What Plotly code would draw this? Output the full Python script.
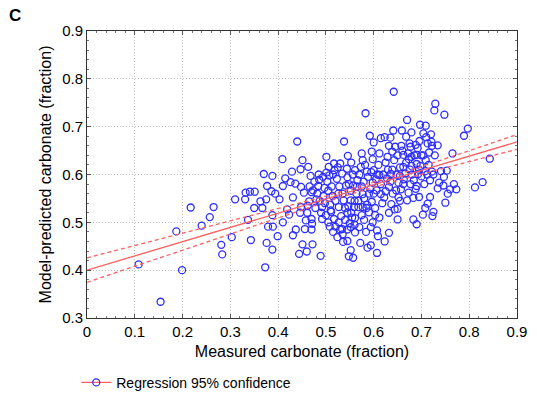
import numpy as np
import plotly.graph_objects as go

# ---- data ----
measured = [
    0.108, 0.154, 0.199, 0.187, 0.217, 0.240, 0.257, 0.265, 0.281, 0.283,
    0.303, 0.310, 0.331, 0.332, 0.341, 0.351, 0.337, 0.343, 0.350, 0.363,
    0.367, 0.370, 0.375, 0.377, 0.376, 0.373, 0.379, 0.389, 0.388, 0.388,
    0.388, 0.386, 0.394, 0.403, 0.399, 0.409, 0.410, 0.410, 0.415, 0.419,
    0.423, 0.426, 0.429, 0.431, 0.431, 0.437, 0.436, 0.440, 0.446, 0.444,
    0.448, 0.447, 0.448, 0.451, 0.451, 0.454, 0.460, 0.458, 0.456, 0.463,
    0.461, 0.465, 0.468, 0.470, 0.471, 0.470, 0.470, 0.472, 0.473, 0.480,
    0.484, 0.486, 0.489, 0.487, 0.492, 0.492, 0.494, 0.497, 0.501, 0.501,
    0.500, 0.505, 0.506, 0.507, 0.508, 0.509, 0.511, 0.514, 0.517, 0.517,
    0.518, 0.520, 0.524, 0.523, 0.526, 0.527, 0.527, 0.532, 0.530, 0.534,
    0.538, 0.537, 0.534, 0.536, 0.542, 0.546, 0.544, 0.545, 0.547, 0.545,
    0.550, 0.548, 0.552, 0.552, 0.552, 0.553, 0.552, 0.553, 0.557, 0.557,
    0.561, 0.559, 0.561, 0.561, 0.564, 0.566, 0.568, 0.572, 0.575, 0.573,
    0.577, 0.577, 0.577, 0.580, 0.579, 0.583, 0.584, 0.586, 0.586, 0.587,
    0.590, 0.592, 0.593, 0.594, 0.594, 0.596, 0.600, 0.598, 0.596, 0.598,
    0.600, 0.603, 0.607, 0.607, 0.609, 0.608, 0.606, 0.612, 0.612, 0.615,
    0.615, 0.622, 0.623, 0.625, 0.623, 0.628, 0.629, 0.632, 0.632, 0.632,
    0.632, 0.636, 0.635, 0.637, 0.639, 0.639, 0.641, 0.642, 0.644, 0.645,
    0.647, 0.652, 0.650, 0.652, 0.650, 0.655, 0.655, 0.659, 0.660, 0.662,
    0.657, 0.662, 0.662, 0.666, 0.670, 0.668, 0.670, 0.672, 0.674, 0.673,
    0.676, 0.677, 0.677, 0.679, 0.679, 0.679, 0.683, 0.683, 0.684, 0.688,
    0.690, 0.690, 0.690, 0.690, 0.693, 0.695, 0.696, 0.697, 0.698, 0.700,
    0.703, 0.704, 0.704, 0.708, 0.709, 0.708, 0.709, 0.710, 0.713, 0.713,
    0.715, 0.716, 0.718, 0.718, 0.720, 0.721, 0.722, 0.723, 0.725, 0.727,
    0.729, 0.734, 0.734, 0.737, 0.741, 0.747, 0.748, 0.746, 0.750, 0.753,
    0.755, 0.760, 0.765, 0.768, 0.773, 0.789, 0.797, 0.812, 0.828, 0.843,
    # denser core
    0.503, 0.512, 0.520, 0.528, 0.535, 0.540, 0.545, 0.548, 0.556, 0.560,
    0.515, 0.525, 0.510, 0.540, 0.530, 0.555, 0.565, 0.570, 0.568, 0.575,
    0.580, 0.582, 0.588, 0.590, 0.585, 0.595, 0.600, 0.603, 0.605, 0.610,
    0.615, 0.618, 0.620, 0.625, 0.630, 0.635, 0.640, 0.643, 0.648, 0.650,
    0.655, 0.658, 0.663, 0.668, 0.675, 0.680, 0.685, 0.688, 0.692, 0.695,
    0.700, 0.706, 0.712, 0.722, 0.725, 0.728, 0.478, 0.482, 0.490, 0.495,
    0.498, 0.485, 0.476, 0.462, 0.466, 0.505, 0.515, 0.535, 0.545, 0.560,
    0.570, 0.575, 0.598, 0.612,
]
predicted = [
    0.412, 0.334, 0.400, 0.481, 0.531, 0.493, 0.511, 0.532, 0.453, 0.433,
    0.469, 0.548, 0.548, 0.562, 0.564, 0.564, 0.505, 0.463, 0.530, 0.544,
    0.530, 0.601, 0.548, 0.576, 0.457, 0.406, 0.491, 0.491, 0.443, 0.515,
    0.597, 0.565, 0.560, 0.548, 0.471, 0.632, 0.576, 0.500, 0.592, 0.527,
    0.516, 0.584, 0.606, 0.552, 0.473, 0.485, 0.581, 0.669, 0.520, 0.434,
    0.532, 0.611, 0.574, 0.630, 0.454, 0.562, 0.439, 0.504, 0.486, 0.616,
    0.520, 0.544, 0.597, 0.563, 0.497, 0.485, 0.507, 0.454, 0.567, 0.548,
    0.576, 0.589, 0.430, 0.545, 0.507, 0.532, 0.595, 0.572, 0.637, 0.604,
    0.515, 0.566, 0.616, 0.598, 0.491, 0.537, 0.522, 0.555, 0.623, 0.507,
    0.609, 0.491, 0.469, 0.591, 0.560, 0.532, 0.500, 0.513, 0.623, 0.602,
    0.669, 0.546, 0.486, 0.459, 0.577, 0.639, 0.612, 0.594, 0.534, 0.461,
    0.498, 0.429, 0.442, 0.566, 0.546, 0.520, 0.490, 0.625, 0.426, 0.577,
    0.479, 0.532, 0.509, 0.609, 0.560, 0.588, 0.532, 0.457, 0.644, 0.616,
    0.630, 0.559, 0.532, 0.505, 0.585, 0.728, 0.480, 0.606, 0.537, 0.447,
    0.521, 0.681, 0.570, 0.452, 0.490, 0.648, 0.667, 0.632, 0.543, 0.583,
    0.609, 0.515, 0.483, 0.436, 0.471, 0.600, 0.567, 0.644, 0.599, 0.676,
    0.559, 0.552, 0.678, 0.625, 0.460, 0.592, 0.637, 0.520, 0.478, 0.574,
    0.660, 0.601, 0.677, 0.538, 0.648, 0.610, 0.692, 0.773, 0.527, 0.658,
    0.567, 0.552, 0.506, 0.583, 0.528, 0.597, 0.545, 0.692, 0.650, 0.641,
    0.569, 0.616, 0.580, 0.602, 0.714, 0.679, 0.546, 0.644, 0.632, 0.562,
    0.610, 0.658, 0.580, 0.688, 0.637, 0.618, 0.506, 0.551, 0.588, 0.662,
    0.496, 0.641, 0.622, 0.576, 0.601, 0.553, 0.670, 0.704, 0.618, 0.596,
    0.516, 0.686, 0.640, 0.530, 0.702, 0.607, 0.630, 0.678, 0.539, 0.665,
    0.620, 0.646, 0.588, 0.553, 0.684, 0.668, 0.606, 0.513, 0.522, 0.734,
    0.748, 0.661, 0.571, 0.583, 0.607, 0.595, 0.725, 0.577, 0.541, 0.608,
    0.560, 0.569, 0.644, 0.580, 0.569, 0.681, 0.696, 0.573, 0.584, 0.633,
    # denser core
    0.585, 0.575, 0.545, 0.575, 0.560, 0.530, 0.520, 0.580, 0.600, 0.545,
    0.600, 0.615, 0.525, 0.505, 0.485, 0.510, 0.575, 0.600, 0.545, 0.575,
    0.550, 0.620, 0.595, 0.560, 0.530, 0.605, 0.560, 0.530, 0.590, 0.620,
    0.580, 0.540, 0.600, 0.565, 0.610, 0.585, 0.560, 0.630, 0.600, 0.640,
    0.615, 0.660, 0.590, 0.625, 0.665, 0.600, 0.640, 0.570, 0.655, 0.610,
    0.640, 0.580, 0.600, 0.660, 0.600, 0.640, 0.530, 0.560, 0.520, 0.555,
    0.540, 0.600, 0.585, 0.535, 0.575, 0.500, 0.480, 0.475, 0.485, 0.495,
    0.490, 0.515, 0.500, 0.510,
]

# regression
INTERCEPT = 0.400
SLOPE = 0.298
CI_CENTER = 0.567   # x where the confidence band is narrowest
CI_MIN = 0.005      # half-width at the centre
CI_SPREAD = 0.0441  # growth of half-width away from the centre

X_TICKS = [0, 0.1, 0.2, 0.3, 0.4, 0.5, 0.6, 0.7, 0.8, 0.9]
X_LABELS = ["0", "0.1", "0.2", "0.3", "0.4", "0.5", "0.6", "0.7", "0.8", "0.9"]
Y_TICKS = [0.3, 0.4, 0.5, 0.6, 0.7, 0.8, 0.9]
Y_LABELS = ["0.3", "0.4", "0.5", "0.6", "0.7", "0.8", "0.9"]

FONT = "Liberation Sans, Arial, Helvetica, sans-serif"
BLUE = "rgb(45,45,255)"
RED = "rgb(255,95,95)"

xg = np.linspace(0, 0.9, 181)
fit = INTERCEPT + SLOPE * xg
half = np.sqrt(CI_MIN**2 + (CI_SPREAD * (xg - CI_CENTER))**2)

fig = go.Figure()
fig.add_trace(go.Scatter(
    x=measured, y=predicted, mode="markers",
    marker=dict(symbol="circle-open", size=7, color=BLUE, line=dict(width=1.3, color=BLUE)),
    showlegend=False, hoverinfo="skip"))
fig.add_trace(go.Scatter(x=xg, y=fit, mode="lines", line=dict(color=RED, width=1.3),
                         showlegend=False, hoverinfo="skip"))
fig.add_trace(go.Scatter(x=xg, y=fit + half, mode="lines",
                         line=dict(color=RED, width=1.3, dash="4px,3px"),
                         showlegend=False, hoverinfo="skip"))
fig.add_trace(go.Scatter(x=xg, y=fit - half, mode="lines",
                         line=dict(color=RED, width=1.3, dash="4px,3px"),
                         showlegend=False, hoverinfo="skip"))
# legend entry
fig.add_trace(go.Scatter(
    x=[None], y=[None], mode="lines+markers", name="Regression 95% confidence",
    line=dict(color=RED, width=1.3),
    marker=dict(symbol="circle-open", size=7, color=BLUE, line=dict(width=1.3, color=BLUE))))

axis_common = dict(
    showline=True, mirror="ticks", linecolor="#333333", linewidth=1,
    showgrid=True, gridcolor="#bdbdbd", griddash="1px,2px", gridwidth=1,
    ticks="inside", ticklen=4, tickcolor="#555555",
    minor=dict(ticks="inside", ticklen=2, tickcolor="#777777", dtick=0.02, showgrid=False),
    zeroline=False, automargin=False,
    tickfont=dict(family=FONT, size=15, color="black"),
)

fig.update_xaxes(range=[0, 0.9], tickvals=X_TICKS, ticktext=X_LABELS,
                 title=dict(text="Measured carbonate (fraction)",
                            font=dict(family=FONT, size=16, color="black"), standoff=6),
                 **axis_common)
fig.update_yaxes(range=[0.3, 0.9], tickvals=Y_TICKS, ticktext=Y_LABELS,
                 title=dict(text="Model-predicted carbonate (fraction)",
                            font=dict(family=FONT, size=16, color="black"), standoff=6),
                 **axis_common)

fig.update_layout(
    width=537, height=395,
    margin=dict(l=87, r=20, t=31, b=77, autoexpand=False),
    paper_bgcolor="white", plot_bgcolor="white",
    font=dict(family=FONT, color="black"),
    showlegend=True,
    legend=dict(x=-0.025, y=-0.17, xanchor="left", yanchor="top",
                font=dict(family=FONT, size=14, color="black"),
                bgcolor="rgba(0,0,0,0)", itemwidth=30),
    annotations=[dict(text="<b>C</b>", xref="paper", yref="paper", x=-0.185, y=1.095,
                      xanchor="left", yanchor="top", showarrow=False,
                      font=dict(family=FONT, size=17, color="black"))],
)

fig.write_html(
    "out.html",
    config={"displayModeBar": False},
    post_script="document.body.style.margin='0';document.body.style.overflow='hidden';",
)
